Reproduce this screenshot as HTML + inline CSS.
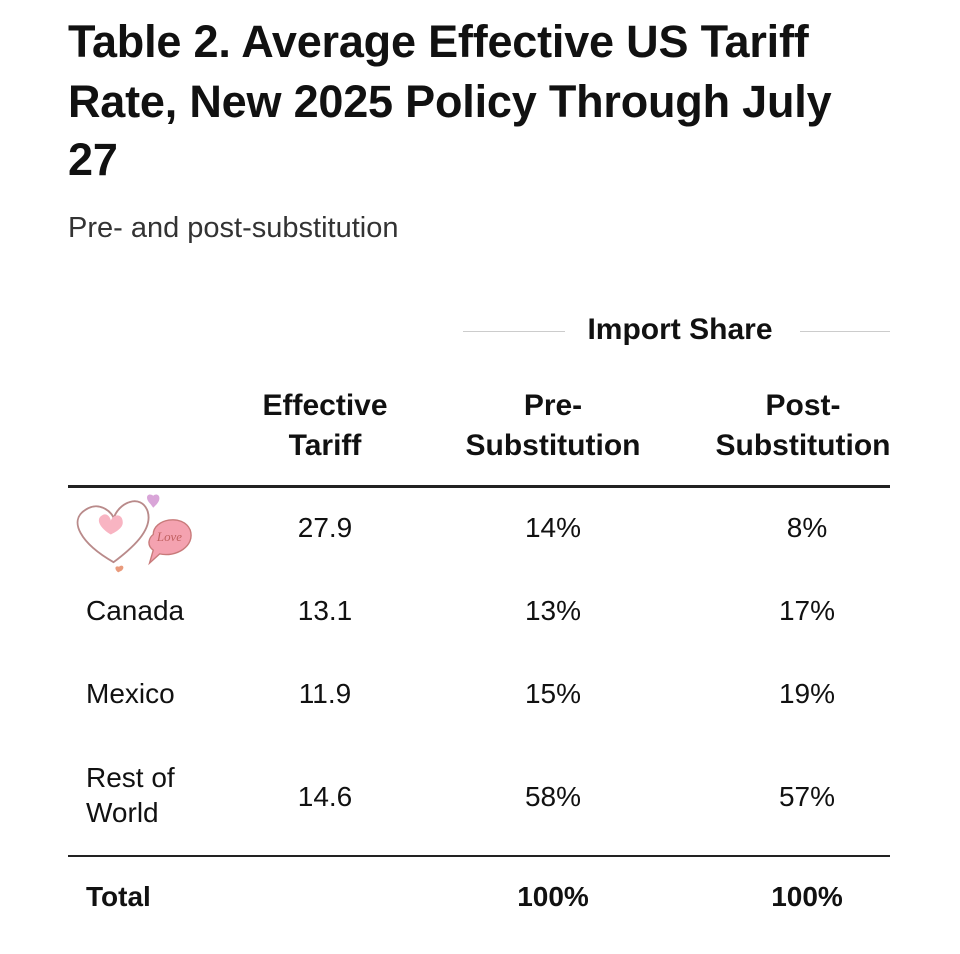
<!DOCTYPE html>
<html><head><meta charset="utf-8"><style>
body{margin:0;width:960px;height:954px;background:#fff;position:relative;overflow:hidden;font-family:"Liberation Sans",sans-serif;color:#111}
.a{position:absolute;white-space:nowrap}
.t{font-weight:bold;font-size:45px;left:68px;line-height:56px;letter-spacing:-0.2px}
.h{font-weight:bold;font-size:30px;text-align:center;line-height:40px}
.c{font-size:28px;text-align:center;width:160px;line-height:34px}
.l{font-size:28px;left:86px;line-height:34px}
.b{font-weight:bold}
.line{position:absolute;background:#222}
</style></head><body>
<div class="a t" style="top:14px">Table 2. Average Effective US Tariff</div>
<div class="a t" style="top:74px">Rate, New 2025 Policy Through July</div>
<div class="a t" style="top:132px">27</div>
<div class="a" style="top:211px;left:68px;font-size:29px;line-height:34px;color:#333">Pre- and post-substitution</div>

<div class="line" style="left:463px;top:331px;width:102px;height:1px;background:#ccc"></div>
<div class="line" style="left:800px;top:331px;width:90px;height:1px;background:#ccc"></div>
<div class="a h" style="top:310px;left:570px;width:220px">Import Share</div>

<div class="a h" style="top:386px;left:225px;width:200px">Effective<br>Tariff</div>
<div class="a h" style="top:386px;left:443px;width:220px">Pre-<br>Substitution</div>
<div class="a" style="top:386px;left:700px;width:190px;overflow:hidden;height:90px"><div class="h" style="width:220px;margin-left:-7px">Post-<br>Substitution</div></div>

<div class="line" style="left:68px;top:485px;width:822px;height:3px"></div>

<svg class="a" style="left:72px;top:492px" width="120" height="85" viewBox="0 0 130 90">
<path d="M88 45 C88 28 120 22 128 40 C134 58 112 70 95 66 L84 76 L88 62 C80 56 84 48 88 45Z" fill="#f4a2b0" stroke="#c87a7a" stroke-width="1.5"/>
<path d="M45 75 C10 55 -5 30 15 18 C30 8 45 22 45 28 C50 10 75 0 82 20 C88 40 65 60 45 75Z" fill="#fff" stroke="#b98a8a" stroke-width="2"/>
<path d="M42 45 C30 38 25 28 33 24 C38 21 42 27 42 30 C45 22 55 22 55 32 C55 38 48 42 42 45Z" fill="#f8b4c2"/>
<path d="M85 12 C78 5 82 -1 88 3 C93 -1 98 5 92 12 L88 16Z" fill="#d9a5d8"/>
<path d="M50 86 C45 82 47 78 51 80 C54 77 58 80 54 84Z" fill="#e99a7c"/>
<text x="92" y="52" font-size="14" fill="#c06060" font-family="Liberation Serif,serif" font-style="italic">Love</text>
</svg>

<div class="a c" style="top:511px;left:245px">27.9</div>
<div class="a c" style="top:511px;left:473px">14%</div>
<div class="a c" style="top:511px;left:727px">8%</div>

<div class="a l" style="top:594px">Canada</div>
<div class="a c" style="top:594px;left:245px">13.1</div>
<div class="a c" style="top:594px;left:473px">13%</div>
<div class="a c" style="top:594px;left:727px">17%</div>

<div class="a l" style="top:677px">Mexico</div>
<div class="a c" style="top:677px;left:245px">11.9</div>
<div class="a c" style="top:677px;left:473px">15%</div>
<div class="a c" style="top:677px;left:727px">19%</div>

<div class="a l" style="top:760px;line-height:35px">Rest of<br>World</div>
<div class="a c" style="top:780px;left:245px">14.6</div>
<div class="a c" style="top:780px;left:473px">58%</div>
<div class="a c" style="top:780px;left:727px">57%</div>

<div class="line" style="left:68px;top:855px;width:822px;height:2px"></div>

<div class="a l b" style="top:880px">Total</div>
<div class="a c b" style="top:880px;left:473px">100%</div>
<div class="a c b" style="top:880px;left:727px">100%</div>
</body></html>
